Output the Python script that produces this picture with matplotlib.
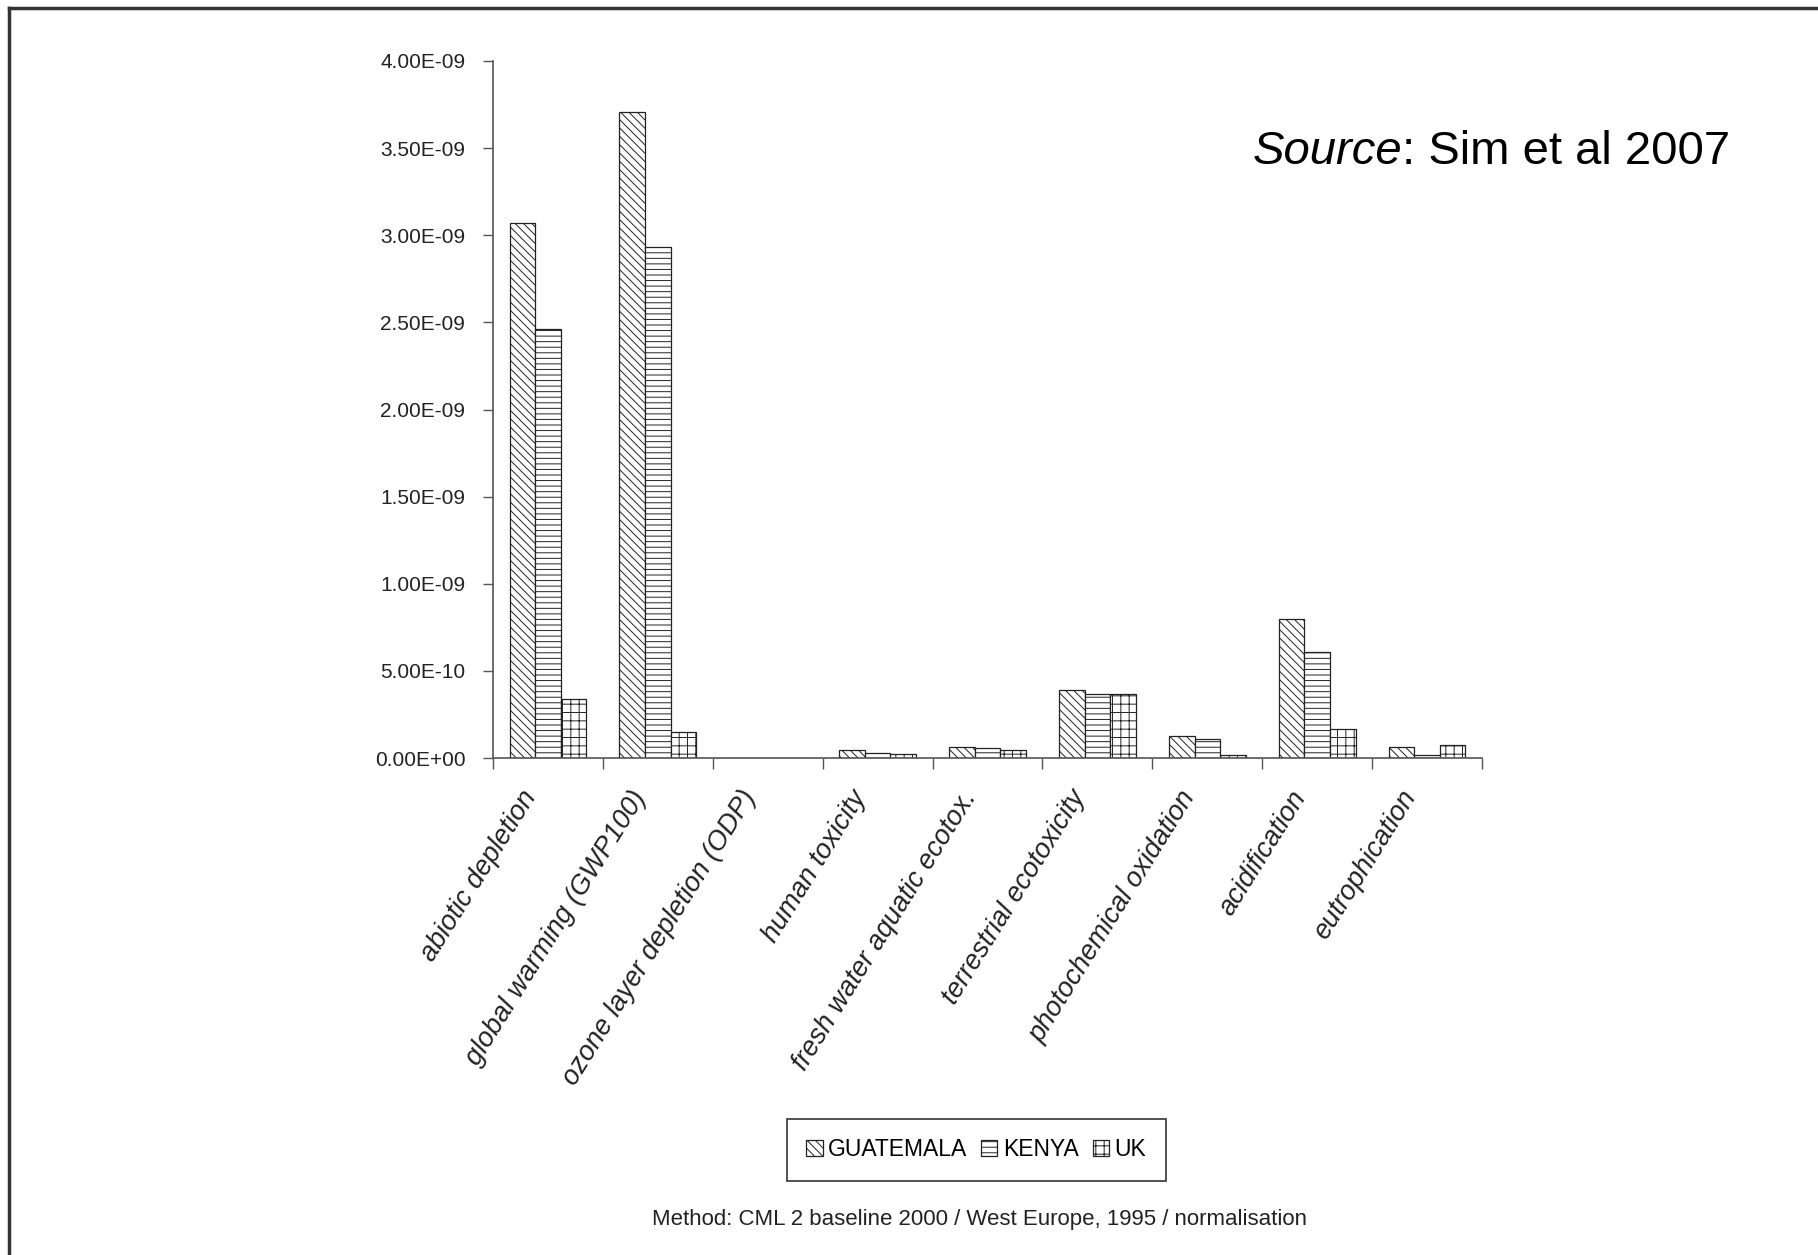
#!/usr/bin/env python3

import matplotlib
matplotlib.use('Agg')
import matplotlib.pyplot as plt
from matplotlib.lines import Line2D
from matplotlib.ticker import FuncFormatter, FixedLocator
import matplotlib.transforms as mtransforms
import numpy as np


categories = ['abiotic depletion', 'global warming (GWP100)', 'ozone layer depletion (ODP)',
              'human toxicity', 'fresh water aquatic ecotox.', 'terrestrial ecotoxicity',
              'photochemical oxidation', 'acidification', 'eutrophication']
guatemala = [3.07e-9, 3.71e-9, 0.0, 0.044e-9, 0.063e-9, 0.39e-9, 0.125e-9, 0.80e-9, 0.065e-9]
kenya = [2.46e-9, 2.93e-9, 0.0, 0.03e-9, 0.06e-9, 0.367e-9, 0.11e-9, 0.61e-9, 0.015e-9]
uk = [0.34e-9, 0.15e-9, 0.0, 0.025e-9, 0.046e-9, 0.367e-9, 0.02e-9, 0.165e-9, 0.075e-9]
series_names = ['GUATEMALA', 'KENYA', 'UK']
y_ticks = np.arange(0, 4.01e-9, 0.5e-9)

sans = ['Liberation Sans', 'DejaVu Sans']
plt.rcParams['hatch.linewidth'] = 0.7


def main():
	fig = plt.figure(figsize=(18.18, 12.55), dpi=100)
	ax = fig.add_axes([0.2712, 0.396, 0.544, 0.5554])

	x = np.arange(len(categories))
	w = 0.233
	hatches = ['\\\\\\\\', '---', '++']
	for i, (vals, name) in enumerate(zip([guatemala, kenya, uk], series_names)):
		ax.bar(x + (i - 1) * w, vals, w, facecolor='white', edgecolor='#222222',
		       linewidth=0.9, hatch=hatches[i], label=name)

	ax.set_xlim(-0.5, len(categories) - 0.5)
	ax.set_ylim(0, 4.0e-9)
	ax.set_yticks(y_ticks)
	ax.yaxis.set_major_formatter(FuncFormatter(lambda v, p: f'{v:.2E}'))
	for lbl in ax.get_yticklabels():
		lbl.set_family(sans)
		lbl.set_fontsize(15)
		lbl.set_color('#222222')
	ax.tick_params(axis='y', direction='out', length=7, width=1, color='#555555', pad=13)

	ax.spines['top'].set_visible(False)
	ax.spines['right'].set_visible(False)
	for s in ['left', 'bottom']:
		ax.spines[s].set_color('#555555')
		ax.spines[s].set_linewidth(1.2)

	# category boundaries get the ticks, labels sit at the centres
	ax.xaxis.set_minor_locator(FixedLocator(np.arange(len(categories) + 1) - 0.5))
	ax.tick_params(axis='x', which='minor', direction='out', length=8, width=1, color='#555555')
	ax.set_xticks(x)
	ax.set_xticklabels(categories, rotation=58, ha='right', rotation_mode='anchor',
	                   fontsize=19.5, style='italic', family=sans, color='#222222')
	ax.tick_params(axis='x', which='major', length=0, pad=20)
	offset = mtransforms.ScaledTranslation(-28 / 100, 0, fig.dpi_scale_trans)
	for lbl in ax.get_xticklabels():
		lbl.set_transform(lbl.get_transform() + offset)

	handles, labels = ax.get_legend_handles_labels()
	leg = fig.legend(handles, labels, loc='center', bbox_to_anchor=(0.537, 0.0837), ncol=3,
	                 frameon=True, fancybox=False, edgecolor='#333333', framealpha=1,
	                 handlelength=0.7, handleheight=0.7, handletextpad=0.25, columnspacing=0.6,
	                 borderpad=0.85, prop={'family': sans, 'size': 16.5})
	leg.get_frame().set_linewidth(1.2)

	fig.text(0.539, 0.028, 'Method: CML 2 baseline 2000 / West Europe, 1995 / normalisation',
	         ha='center', va='center', fontsize=16, family=sans, color='#222222')

	t1 = fig.text(0.689, 0.869, 'Source', style='italic', fontsize=34, family=sans, va='baseline')
	fig.canvas.draw()
	ax.annotate(': Sim et al 2007', xy=(1, 0), xycoords=t1, va='bottom', ha='left',
	            fontsize=34, family=sans, annotation_clip=False)

	# page border, only top and left edges
	fig.add_artist(Line2D([9 / 1818, 1], [1 - 8 / 1255, 1 - 8 / 1255], color='#333333', lw=2.5))
	fig.add_artist(Line2D([9 / 1818, 9 / 1818], [0, 1 - 8 / 1255], color='#333333', lw=2.5))

	fig.savefig('out.png', dpi=100)


if __name__ == '__main__':
	main()
